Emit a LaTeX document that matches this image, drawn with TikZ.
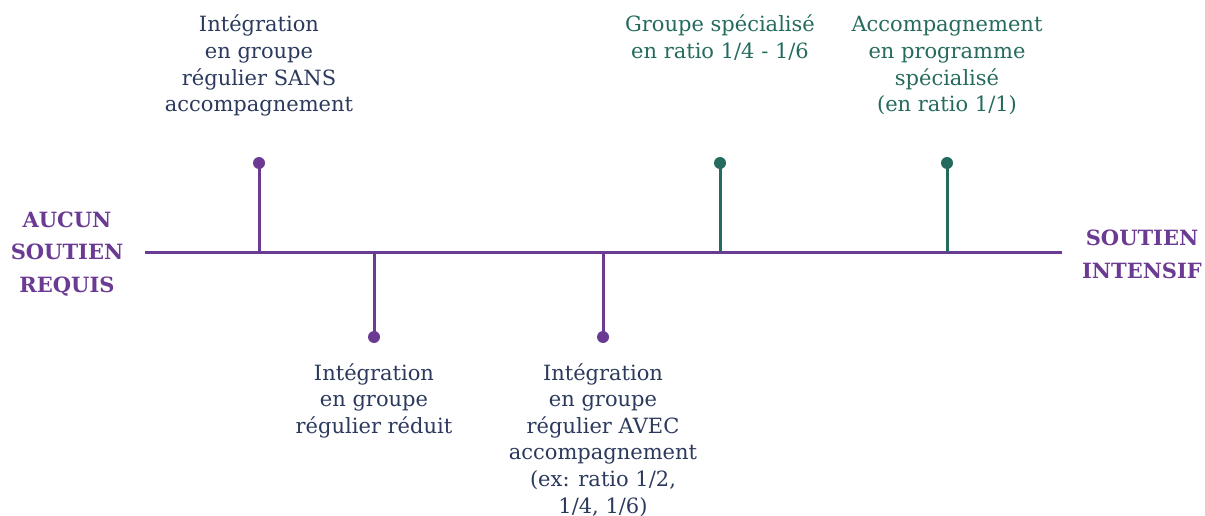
\documentclass[tikz,border=0pt]{standalone}
\usepackage{fontspec}
\setmainfont{DejaVu Serif}
\definecolor{purp}{HTML}{6B3A92}
\definecolor{grn}{HTML}{246B5E}
\definecolor{navy}{HTML}{2B3A5C}
\tikzset{
  stemp/.style={draw=purp, line width=3pt},
  stemg/.style={draw=grn, line width=3pt},
  dotp/.style={circle, fill=purp, inner sep=0pt, minimum size=12pt},
  dotg/.style={circle, fill=grn, inner sep=0pt, minimum size=12pt},
  lbl/.style={align=center, inner sep=0pt, anchor=base, text=navy, font=\fontsize{21}{26.6}\selectfont},
  lblg/.style={lbl, text=grn},
  endlbl/.style={align=center, inner sep=0pt, anchor=base, text=purp, font=\fontsize{21}{32.5}\selectfont\bfseries},
}
\begin{document}
\begin{tikzpicture}[x=1pt,y=-1pt]
\useasboundingbox (0,0) rectangle (1205,516);
% axis
\coordinate (L) at (145,252);
\coordinate (R) at (1062,252);
\draw[stemp] (L) -- (R);
% stems
\coordinate (b1) at (259,252); \node[dotp] (d1) at (259,163) {};
\coordinate (b2) at (374,252); \node[dotp] (d2) at (374,337) {};
\coordinate (b3) at (603,252); \node[dotp] (d3) at (603,337) {};
\coordinate (b4) at (720,252); \node[dotg] (d4) at (720,163) {};
\coordinate (b5) at (947,252); \node[dotg] (d5) at (947,163) {};
\draw[stemp] (b1) -- (d1.center);
\draw[stemp] (b2) -- (d2.center);
\draw[stemp] (b3) -- (d3.center);
\draw[stemg] (b4) -- (d4.center);
\draw[stemg] (b5) -- (d5.center);
% labels (base anchor = baseline of last line)
\node[lbl] (t1) at (259,111.8) {Intégration\\en groupe\\régulier SANS\\accompagnement};
\node[lbl] (t2) at (374,433.2) {Intégration\\en groupe\\régulier réduit};
\node[lbl] (t3) at (603,513) {Intégration\\en groupe\\régulier AVEC\\accompagnement\\(ex: ratio 1/2,\\1/4, 1/6)};
\node[lblg] (t4) at (720,58.6) {Groupe spécialisé\\en ratio 1/4 - 1/6};
\node[lblg] (t5) at (947,111.8) {Accompagnement\\en programme\\spécialisé\\(en ratio 1/1)};
\node[endlbl] (e1) at (67,292) {AUCUN\\SOUTIEN\\REQUIS};
\node[endlbl] (e2) at (1142,278) {SOUTIEN\\INTENSIF};
\end{tikzpicture}
\end{document}
